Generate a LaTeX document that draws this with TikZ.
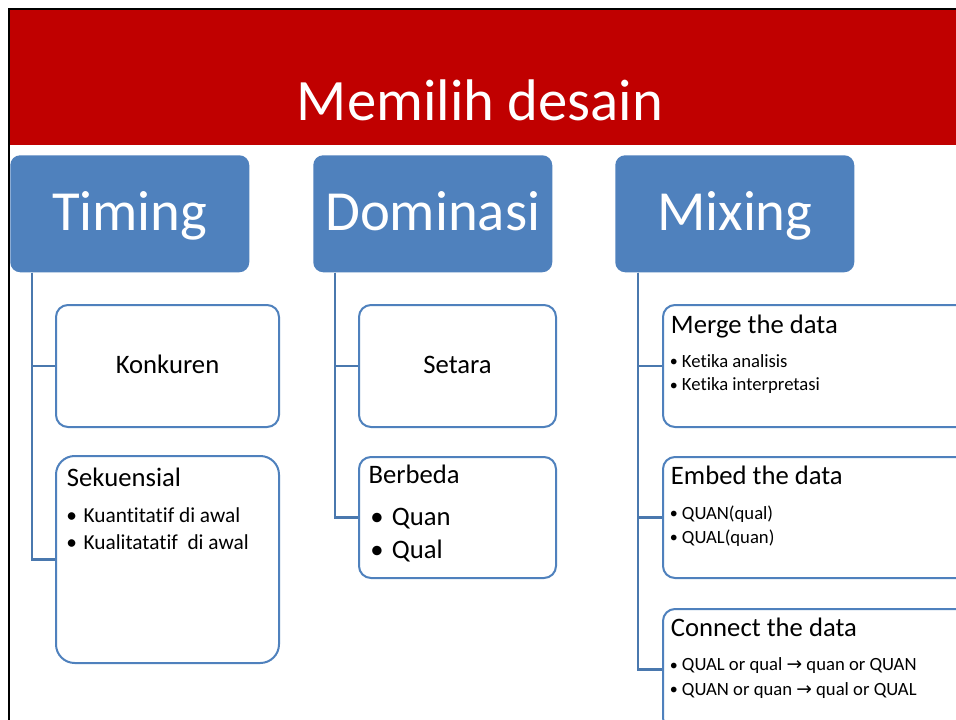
\documentclass[tikz,border=0pt]{standalone}
\usepackage{fontspec}
\setmainfont{Carlito}[Ligatures={NoCommon}]
\newfontfamily\arrowfont{DejaVu Sans}
\usetikzlibrary{calc}
\definecolor{slidered}{HTML}{C00000}
\definecolor{accentblue}{HTML}{4F81BD}
\definecolor{linkblue}{HTML}{4A78AE}
\tikzset{
  header/.style={fill=accentblue, rounded corners=7.5pt, anchor=north west,
    inner sep=0pt, minimum width=179.25pt, minimum height=87.75pt},
  headtext/.style={anchor=base, inner sep=0pt, text=white,
    font=\fontsize{42.5}{50}\selectfont},
  leaf/.style={draw=accentblue, line width=1.5pt, fill=white,
    rounded corners=9pt, anchor=north west, inner sep=0pt},
  link/.style={draw=linkblue, line width=1.6pt},
  txt/.style={anchor=base west, inner sep=0pt, text=black},
  ctxt/.style={anchor=base, inner sep=0pt, text=black},
  big/.style={font=\fontsize{20}{24}\selectfont},
  mid/.style={font=\fontsize{16}{19}\selectfont},
  small/.style={font=\fontsize{14}{17}\selectfont},
}
\newcommand{\bul}[1]{\makebox[#1][l]{\textbullet}}
\newcommand{\sbul}{\makebox[9pt][l]{\raisebox{0.3pt}{\fontsize{12}{14}\selectfont\textbullet}}}
\begin{document}
\begin{tikzpicture}[x=0.75pt,y=-0.75pt]
  \clip (0,0) rectangle (956,720);
  \fill[white] (0,0) rectangle (956,720);

  % title band and slide frame
  \fill[slidered] (10,10) rectangle (956,145);
  \draw[black, line width=1.5pt] (9,720) -- (9,9) -- (956,9);
  \node[anchor=base, inner sep=0pt, text=white, font=\fontsize{44}{52}\selectfont]
    (title) at (480,121) {Memilih desain};

  % top level boxes
  \node[header] (timing) at (10,155) {};
  \node[header] (dominasi) at (313,155) {};
  \node[header] (mixing) at (615,155) {};
  \node[headtext] (timingT) at ($(timing.north)+(0,75.5)$) {Timing};
  \node[headtext] (dominasiT) at ($(dominasi.north)+(0,75.5)$) {Dominasi};
  \node[headtext] (mixingT) at ($(mixing.north)+(0,76)$) {Mixing};

  % second level boxes
  \node[leaf, minimum width=167.25pt, minimum height=91.5pt] (konk) at (55,304) {};
  \node[leaf, minimum width=167.25pt, minimum height=155.25pt, rounded corners=14pt] (sekuen) at (55,455) {};
  \node[leaf, minimum width=147.75pt, minimum height=91.5pt] (setara) at (358,304) {};
  \node[leaf, minimum width=147.75pt, minimum height=90.75pt] (berbeda) at (358,456) {};
  \node[leaf, minimum width=255pt, minimum height=91.5pt] (merge) at (662,304) {};
  \node[leaf, minimum width=255pt, minimum height=90.75pt] (embed) at (662,456) {};
  \node[leaf, minimum width=255pt, minimum height=90.75pt] (connect) at (662,608) {};

  % connectors
  \draw[link] ($(timing.south west)+(22,0)$) |- (konk.west);
  \draw[link] ($(timing.south west)+(22,0)$) |- (sekuen.west);
  \draw[link] ($(dominasi.south west)+(22,0)$) |- (setara.west);
  \draw[link] ($(dominasi.south west)+(22,0)$) |- (berbeda.west);
  \draw[link] ($(mixing.south west)+(23,0)$) |- (merge.west);
  \draw[link] ($(mixing.south west)+(23,0)$) |- (embed.west);
  \draw[link] ($(mixing.south west)+(23,0)$) |- (connect.west);

  % Timing
  \node[ctxt, big] (konkT) at ($(konk.center)+(0,7.7)$) {Konkuren};
  \node[txt, big] (sekuenT) at ($(sekuen.north west)+(11.7,31.7)$) {Sekuensial};
  \node[txt, mid] (sekuenA) at ($(sekuen.north west)+(11,67.7)$) {\bul{13pt}Kuantitatif di awal};
  \node[txt, mid] (sekuenB) at ($(sekuen.north west)+(11,94.3)$) {\bul{13pt}Kualitatatif\ \ di awal};

  % Dominasi
  \node[ctxt, big] (setaraT) at ($(setara.center)+(0,7.7)$) {Setara};
  \node[txt, big] (berbedaT) at ($(berbeda.north west)+(10.3,27.3)$) {Berbeda};
  \node[txt, big] (berbedaA) at ($(berbeda.north west)+(12,69)$) {\bul{16.3pt}Quan};
  \node[txt, big] (berbedaB) at ($(berbeda.north west)+(12,102.3)$) {\bul{16.3pt}Qual};

  % Mixing
  \node[txt, big] (mergeT) at ($(merge.north west)+(8.7,29.3)$) {Merge the data};
  \node[txt, small] (mergeA) at ($(merge.north west)+(7.7,63.3)$) {\sbul Ketika analisis};
  \node[txt, small] (mergeB) at ($(merge.north west)+(7.7,86.7)$) {\sbul Ketika interpretasi};
  \node[txt, big] (embedT) at ($(embed.north west)+(8.7,28)$) {Embed the data};
  \node[txt, small] (embedA) at ($(embed.north west)+(7.7,63.3)$) {\sbul QUAN(qual)};
  \node[txt, small] (embedB) at ($(embed.north west)+(7.7,87.3)$) {\sbul QUAL(quan)};
  \node[txt, big] (connectT) at ($(connect.north west)+(8.7,28)$) {Connect the data};
  \node[txt, small] (connectA) at ($(connect.north west)+(7.7,62.7)$) {\sbul QUAL or qual {\arrowfont →} quan or QUAN};
  \node[txt, small] (connectB) at ($(connect.north west)+(7.7,87)$) {\sbul QUAN or quan {\arrowfont →} qual or QUAL};
\end{tikzpicture}
\end{document}
